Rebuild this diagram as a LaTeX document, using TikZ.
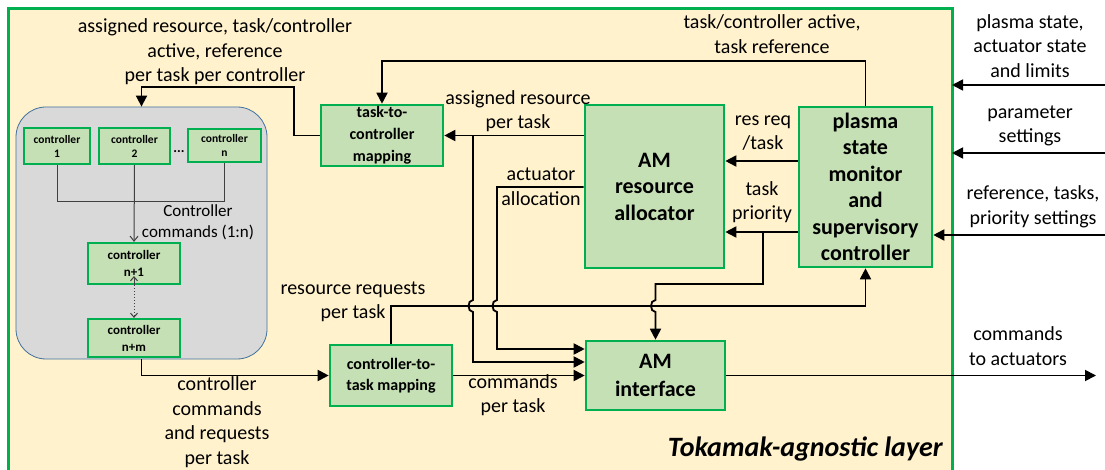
\documentclass[tikz,border=0pt]{standalone}
\usepackage{fontspec}
\setmainfont{Carlito}
\usetikzlibrary{arrows.meta}
\definecolor{creme}{HTML}{FFF2CC}
\definecolor{groen}{HTML}{00B050}
\definecolor{lichtgroen}{HTML}{C5E0B4}
\definecolor{grijs}{HTML}{D9D9D9}
\definecolor{grijsrand}{HTML}{41719C}
\begin{document}
\begin{tikzpicture}[x=1pt,y=-1pt,
  blok/.style={draw=groen,fill=lichtgroen,line width=2.6pt,inner sep=0pt,align=center},
  pijl/.style={line width=1.8pt,-{Triangle[length=11pt,width=11pt]}},
  dun/.style={draw=black!75,line width=1pt},
  lbl/.style={align=center,inner sep=0pt,font=\fontsize{20}{24.5}\selectfont}]
  \useasboundingbox (0,0) rectangle (1105,470);
  \fill[white] (0,0) rectangle (1105,470);

  % layer frame
  \fill[creme] (8,9) rectangle (952,476);
  \draw[groen,line width=3pt] (8,476) -- (8,9) -- (952,9) -- (952,476);
  \node[anchor=east,inner sep=0pt,font=\bfseries\itshape\fontsize{28}{30}\selectfont] (laag) at (943,449) {Tokamak-agnostic layer};

  % controllers
  \node[draw=grijsrand,fill=grijs,rounded corners=30pt,line width=0.8pt,minimum width=251pt,minimum height=252pt] (grp) at (141.5,233) {};
  \node[blok,line width=2.2pt,minimum width=66pt,minimum height=36pt,font=\bfseries\fontsize{11.5}{14}\selectfont] (c1) at (57,146) {controller\\1};
  \node[blok,line width=2.2pt,minimum width=71pt,minimum height=36pt,font=\bfseries\fontsize{11.5}{14}\selectfont] (c2) at (134.5,146) {controller\\2};
  \node[blok,line width=2.2pt,minimum width=73pt,minimum height=33pt,font=\bfseries\fontsize{11.5}{14}\selectfont] (cn) at (224.5,145.5) {controller\\n};
  \node[inner sep=0pt,font=\bfseries\fontsize{14}{14}\selectfont] (puntjes) at (179,152) {...};
  \node[blok,line width=2.2pt,minimum width=92pt,minimum height=41pt,font=\bfseries\fontsize{13}{17}\selectfont] (cn1) at (134,263.5) {controller\\n+1};
  \node[blok,line width=2.2pt,minimum width=92pt,minimum height=38pt,font=\bfseries\fontsize{13}{17}\selectfont] (cnm) at (134,338) {controller\\n+m};
  \draw[dun] (c1.south) |- (cn.south |- 0,202) -- (cn.south);
  \draw[dun,-{Straight Barb[length=5pt,width=8pt]}] (c2.south) -- (cn1.north);
  \draw[dun,-{Straight Barb[length=4pt,width=7pt]}] (cn1.south) -- ++(0,-9);
  \draw[dun,dotted,-{Straight Barb[length=4pt,width=7pt]}] (cn1.south) -- (cnm.north);
  \node[lbl,font=\fontsize{17}{21}\selectfont] (lcc) at (198,222) {Controller\\commands (1:n)};

  % main blocks
  \node[blok,minimum width=122pt,minimum height=61pt,font=\bfseries\fontsize{16}{22}\selectfont] (tc) at (382,135.5) {task-to-\\controller\\mapping};
  \node[blok,minimum width=139pt,minimum height=163pt,font=\bfseries\fontsize{22}{26.5}\selectfont] (ra) at (654.5,186.5) {AM\\resource\\allocator};
  \node[blok,minimum width=133pt,minimum height=160pt,font=\bfseries\fontsize{22}{26.5}\selectfont] (psm) at (865.5,187) {plasma\\state\\monitor\\and\\supervisory\\controller};
  \node[blok,minimum width=122pt,minimum height=61pt,font=\bfseries\fontsize{16}{21}\selectfont] (ct) at (391,375.5) {controller-to-\\task mapping};
  \node[blok,minimum width=139pt,minimum height=69pt,font=\bfseries\fontsize{22}{28}\selectfont] (ai) at (655.5,375.5) {AM\\interface};

  % connectors
  \draw[pijl] (tc.west) -- ++(-26,0) |- (grp.north |- 0,87) -- (grp.north);
  \draw[pijl] (psm.north) |- (tc.north |- 0,61) -- (tc.north);
  \draw[pijl] (ra.west |- tc.east) -- (tc.east);
  \coordinate (tak1) at (473,135.5);
  \draw[pijl] (tak1) -- (473,300) .. controls (467,300) and (467,312) .. (473,312) -- (473,362) -- (ai.west |- 0,362);
  \draw[pijl] (ra.west |- 0,187) -- (497,187) -- (497,300) .. controls (491,300) and (491,312) .. (497,312) -- (497,349) -- (ai.west |- 0,349);
  \draw[pijl] (ct.east) -- (ai.west);
  \draw[pijl] (psm.west |- 0,161) -- (ra.east |- 0,161);
  \draw[pijl] (psm.west |- 0,232) -- (ra.east |- 0,232);
  \coordinate (tak2) at (763,232);
  \draw[pijl] (tak2) -- (763,284) -- (ai.north |- 0,284) -- (655.5,300) .. controls (649.5,300) and (649.5,312) .. (655.5,312) -- (ai.north);
  \draw[pijl] (ct.north) |- (psm.south |- 0,306) -- (psm.south);
  \draw[pijl] (grp.south) |- (ct.west);
  \coordinate (uit) at (1096,375.5);
  \draw[pijl] (ai.east) -- (uit);
  \coordinate (in1) at (1105,85);
  \coordinate (rand1) at (952,85);
  \coordinate (in2) at (1105,153);
  \coordinate (rand2) at (952,153);
  \coordinate (in3) at (1105,235);
  \draw[pijl] (in1) -- (rand1);
  \draw[pijl] (in2) -- (rand2);
  \draw[pijl] (in3) -- (psm.east |- in3);

  % labels
  \node[lbl] (l1) at (215,52) {assigned resource, task/controller\\active, reference\\per task per controller};
  \node[lbl] (l2) at (772,34) {task/controller active,\\task reference};
  \node[lbl] (l3) at (518,111) {assigned resource\\per task};
  \node[lbl] (l4) at (541,187) {actuator\\allocation};
  \node[lbl] (l5) at (513,395) {commands\\per task};
  \node[lbl] (l6) at (763,133) {res req\\/task};
  \node[lbl] (l7) at (762,202) {task\\priority};
  \node[lbl] (l8) at (353,302) {resource requests\\per task};
  \node[lbl] (l9) at (217,422) {controller\\commands\\and requests\\per task};
  \node[lbl] (l10) at (1018,346) {commands\\to actuators};
  \node[lbl] (l11) at (1030,46) {plasma state,\\actuator state\\and limits};
  \node[lbl] (l12) at (1030,126) {parameter\\settings};
  \node[lbl] (l13) at (1033,207) {reference, tasks,\\priority settings};
\end{tikzpicture}
\end{document}
